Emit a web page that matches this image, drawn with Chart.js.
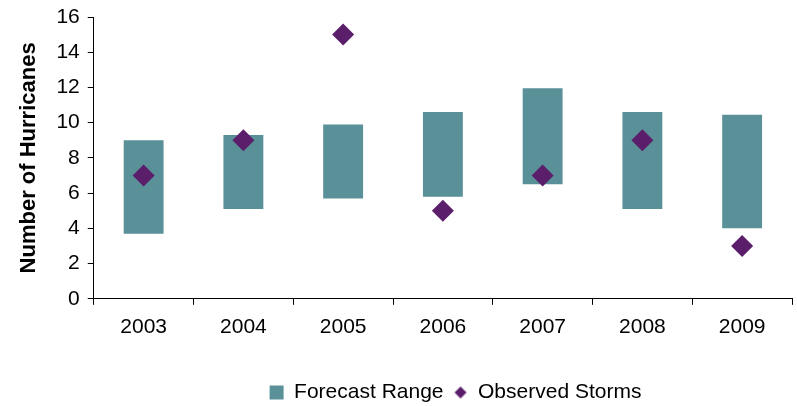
<!DOCTYPE html>
<html>
<head>
<meta charset="utf-8">
<script src="https://cdn.jsdelivr.net/npm/chart.js@4"></script>
<style>
  html, body { margin: 0; padding: 0; background: #fff; overflow: hidden; }
  #wrap { width: 803px; height: 406px; }
</style>
</head>
<body>
<div id="wrap"><canvas id="hurricaneChart"></canvas></div>
<script>
const years = ["2003", "2004", "2005", "2006", "2007", "2008", "2009"];
const forecastLow = [3.7, 5.1, 5.7, 5.8, 6.5, 5.1, 4.0];
const forecastHigh = [9.0, 9.3, 9.9, 10.6, 11.95, 10.6, 10.45];
const observedStorms = [7, 9, 15, 5, 7, 9, 3];

const font = "Arial, 'Liberation Sans', sans-serif";
const teal = "#5A9199";
const purple = "#5B1E6A";

// small diamond for the legend (Excel draws it smaller than the plotted markers)
const legendDiamond = document.createElement("canvas");
legendDiamond.width = 14;
legendDiamond.height = 14;
const dctx = legendDiamond.getContext("2d");
dctx.fillStyle = purple;
dctx.beginPath();
dctx.moveTo(7, 1);
dctx.lineTo(13, 7);
dctx.lineTo(7, 13);
dctx.lineTo(1, 7);
dctx.closePath();
dctx.fill();

// excel puts the legend a bit right of centre
const legendShift = {
  id: "legendShift",
  afterLayout(chart) {
    chart.legend.left += 49;
    chart.legend.right += 49;
  },
};

const chartData = {
  labels: years,
  datasets: [
    {
      type: "line",
      label: "Observed Storms",
      data: observedStorms,
      showLine: false,
      pointStyle: "rectRot",
      pointRadius: 11,
      pointHoverRadius: 11,
      backgroundColor: purple,
      borderColor: purple,
      borderWidth: 0,
      order: 0,
    },
    {
      type: "bar",
      label: "Forecast Range",
      data: forecastLow.map((lo, i) => [lo, forecastHigh[i]]),
      backgroundColor: teal,
      borderWidth: 0,
      barPercentage: 0.4,
      categoryPercentage: 1,
      pointStyle: "rect",
      order: 1,
    },
  ],
};

const chartConfig = {
  type: "bar",
  data: chartData,
  plugins: [legendShift],
  options: {
    responsive: true,
    maintainAspectRatio: false,
    animation: false,
    layout: { padding: { top: 1, right: 6, left: 16, bottom: -7 } },
    plugins: {
      tooltip: { enabled: false },
      legend: {
        position: "bottom",
        reverse: true,
        labels: {
          usePointStyle: true,
          color: "#000",
          font: { family: font, size: 21 },
          boxWidth: 14,
          boxHeight: 14,
          padding: 10,
          generateLabels: (chart) => {
            const items = Chart.defaults.plugins.legend.labels.generateLabels(chart);
            items.forEach((it) => {
              it.lineWidth = 0;
              if (it.text === "Observed Storms") it.pointStyle = legendDiamond;
            });
            return items;
          },
        },
      },
    },
    scales: {
      x: {
        offset: true,
        border: { color: "#000", width: 1 },
        grid: {
          offset: true,
          drawOnChartArea: false,
          color: "#000",
          tickLength: 6,
        },
        ticks: {
          color: "#000",
          font: { family: font, size: 21 },
          padding: 10,
        },
        afterFit: (scale) => {
          scale.height += 22;
          scale.paddingLeft = 0;
          scale.paddingRight = 0;
        },
      },
      y: {
        min: 0,
        max: 16,
        border: { color: "#000", width: 1 },
        grid: {
          drawOnChartArea: false,
          color: "#000",
          tickLength: 6,
        },
        ticks: {
          stepSize: 2,
          color: "#000",
          font: { family: font, size: 21 },
          padding: 8,
        },
        title: {
          display: true,
          text: "Number of Hurricanes",
          color: "#000",
          font: { family: font, size: 22, weight: "bold" },
          padding: { top: 0, bottom: 6 },
        },
        afterFit: (scale) => {
          scale.paddingTop = 17;
        },
      },
    },
  },
};

const ctx = document.getElementById("hurricaneChart");
const hurricaneChart = new Chart(ctx, chartConfig);
</script>
</body>
</html>
